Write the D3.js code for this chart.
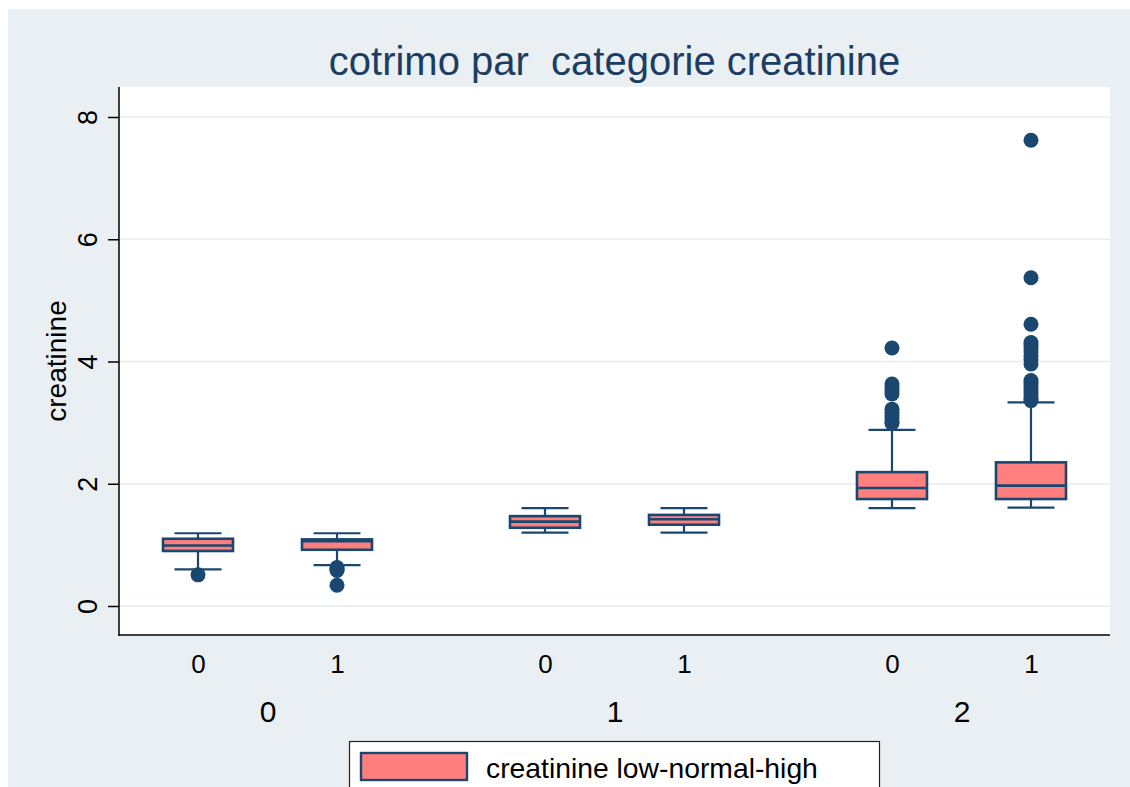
<!DOCTYPE html>
<html>
<head>
<meta charset="utf-8">
<script src="https://cdn.jsdelivr.net/npm/d3@7/dist/d3.min.js"></script>
<style>
  body { margin: 0; background: #ffffff; }
  svg { display: block; font-family: "Liberation Sans", Arial, Helvetica, sans-serif; }
</style>
</head>
<body>
<svg id="chart" width="1130" height="787"></svg>
<script>
// Creatinine category groups and cotrimo sub-groups
const groups = ["0", "1", "2"];
const cotrimo = ["0", "1"];

// Box statistics, one entry per (group, cotrimo) pair in reading order
const lowerWhisker = [0.60, 0.67, 1.20, 1.20, 1.60, 1.61];
const q1           = [0.90, 0.92, 1.28, 1.33, 1.75, 1.75];
const median       = [0.99, 1.06, 1.38, 1.42, 1.93, 1.97];
const q3           = [1.10, 1.09, 1.47, 1.49, 2.19, 2.35];
const upperWhisker = [1.19, 1.19, 1.60, 1.60, 2.88, 3.33];
const outliers = [
  [0.51],
  [0.63, 0.60, 0.58, 0.34],
  [],
  [],
  [4.22, 3.63, 3.57, 3.52, 3.47, 3.22, 3.17, 3.12, 3.07, 3.02, 2.99],
  [7.62, 5.37, 4.61, 4.31, 4.27, 4.22, 4.16, 4.10, 4.03, 3.96,
   3.69, 3.64, 3.60, 3.55, 3.50, 3.45, 3.40, 3.36]
];
const yTicks = [0, 2, 4, 6, 8];

const titleText = "cotrimo par\u00a0\u00a0categorie creatinine";
const yTitle = "creatinine";
const legendLabel = "creatinine low-normal-high";

const boxFill = "#ff7f7f";
const navy = "#1a476f";

const svg = d3.select("#chart");
const W = 1130, H = 787;
const plot = { left: 119, right: 1110, top: 87, bottom: 635 };

// Graph region background
svg.append("rect").attr("x", 8).attr("y", 9).attr("width", W - 8).attr("height", H - 9)
  .attr("fill", "#e9eff2");
// Plot region
svg.append("rect").attr("x", plot.left).attr("y", plot.top)
  .attr("width", plot.right - plot.left).attr("height", plot.bottom - plot.top)
  .attr("fill", "#ffffff");

// Scales
const y = d3.scaleLinear().domain([0, 8]).range([606, 117]);
const xGroup = d3.scalePoint().domain(groups).range([plot.left, plot.right]).padding(0.428);
const xSub = d3.scalePoint().domain(cotrimo).range([-69.5, 69.5]);

// Gridlines
svg.append("g").selectAll("line").data(yTicks).join("line")
  .attr("x1", plot.left).attr("x2", plot.right)
  .attr("y1", d => y(d)).attr("y2", d => y(d))
  .attr("stroke", "#e6edf0").attr("stroke-width", 1.6);

// Title
svg.append("text").attr("x", (plot.left + plot.right) / 2).attr("y", 75)
  .attr("text-anchor", "middle").attr("font-size", 40).attr("fill", "#1c3d63")
  .text(titleText);

// Y axis
const yAxis = svg.append("g").attr("transform", `translate(${plot.left},0)`)
  .call(d3.axisLeft(y).tickValues(yTicks).tickSize(11).tickSizeOuter(0).tickFormat(d3.format("d")));
yAxis.select(".domain").remove();
yAxis.selectAll(".tick line").attr("stroke", "#000").attr("stroke-width", 1.5);
yAxis.selectAll(".tick text")
  .attr("x", 0).attr("dy", null).attr("y", 0)
  .attr("transform", "translate(-22,0) rotate(-90)")
  .attr("text-anchor", "middle").attr("font-size", 27).attr("fill", "#000")
  .attr("font-family", "Liberation Sans, Arial, sans-serif");
svg.append("line").attr("x1", plot.left).attr("x2", plot.left)
  .attr("y1", plot.top).attr("y2", plot.bottom + 0.75)
  .attr("stroke", "#000").attr("stroke-width", 1.5);

// Y axis title
svg.append("text").attr("transform", `translate(66,${(plot.top + plot.bottom) / 2}) rotate(-90)`)
  .attr("text-anchor", "middle").attr("font-size", 28).attr("fill", "#000")
  .text(yTitle);

// X axis line
svg.append("line").attr("x1", plot.left - 0.75).attr("x2", plot.right)
  .attr("y1", plot.bottom).attr("y2", plot.bottom)
  .attr("stroke", "#000").attr("stroke-width", 1.5);

// Sub-group labels under each box
groups.forEach(g => {
  const ax = svg.append("g").attr("transform", `translate(${xGroup(g)},${plot.bottom})`)
    .call(d3.axisBottom(xSub).tickSize(0));
  ax.select(".domain").remove();
  ax.selectAll(".tick text").attr("y", 38).attr("dy", null)
    .attr("font-size", 26).attr("fill", "#000")
    .attr("font-family", "Liberation Sans, Arial, sans-serif");
});

// Group labels
const gAx = svg.append("g").attr("transform", `translate(0,${plot.bottom})`)
  .call(d3.axisBottom(xGroup).tickSize(0));
gAx.select(".domain").remove();
gAx.selectAll(".tick text").attr("y", 87).attr("dy", null)
  .attr("font-size", 30).attr("fill", "#000")
  .attr("font-family", "Liberation Sans, Arial, sans-serif");

// Box plot records
const records = [];
groups.forEach((g, gi) => cotrimo.forEach((s, si) => {
  const i = gi * cotrimo.length + si;
  records.push({
    cx: xGroup(g) + xSub(s),
    lo: lowerWhisker[i], q1: q1[i], med: median[i], q3: q3[i], hi: upperWhisker[i],
    out: outliers[i]
  });
}));

const boxHalf = 35, capHalf = 23.5;
const boxes = svg.append("g").selectAll("g").data(records).join("g");

// Whiskers
boxes.append("line").attr("x1", d => d.cx).attr("x2", d => d.cx)
  .attr("y1", d => y(d.hi)).attr("y2", d => y(d.q3))
  .attr("stroke", navy).attr("stroke-width", 2.2);
boxes.append("line").attr("x1", d => d.cx).attr("x2", d => d.cx)
  .attr("y1", d => y(d.q1)).attr("y2", d => y(d.lo))
  .attr("stroke", navy).attr("stroke-width", 2.2);
boxes.append("line").attr("x1", d => d.cx - capHalf).attr("x2", d => d.cx + capHalf)
  .attr("y1", d => y(d.hi)).attr("y2", d => y(d.hi))
  .attr("stroke", navy).attr("stroke-width", 2.2);
boxes.append("line").attr("x1", d => d.cx - capHalf).attr("x2", d => d.cx + capHalf)
  .attr("y1", d => y(d.lo)).attr("y2", d => y(d.lo))
  .attr("stroke", navy).attr("stroke-width", 2.2);

// Boxes and medians
boxes.append("rect").attr("x", d => d.cx - boxHalf).attr("width", boxHalf * 2)
  .attr("y", d => y(d.q3)).attr("height", d => y(d.q1) - y(d.q3))
  .attr("fill", boxFill).attr("stroke", navy).attr("stroke-width", 2.6);
boxes.append("line").attr("x1", d => d.cx - boxHalf).attr("x2", d => d.cx + boxHalf)
  .attr("y1", d => y(d.med)).attr("y2", d => y(d.med))
  .attr("stroke", navy).attr("stroke-width", 2.6);

// Outside values
boxes.selectAll("circle").data(d => d.out.map(v => ({ cx: d.cx, v }))).join("circle")
  .attr("cx", d => d.cx).attr("cy", d => y(d.v)).attr("r", 7.5)
  .attr("fill", navy);

// Legend
const leg = svg.append("g");
leg.append("rect").attr("x", 349.5).attr("y", 741.5).attr("width", 530).attr("height", 70)
  .attr("fill", "#ffffff").attr("stroke", "#222").attr("stroke-width", 1.2);
leg.append("rect").attr("x", 361).attr("y", 753).attr("width", 106).attr("height", 27)
  .attr("fill", boxFill).attr("stroke", navy).attr("stroke-width", 2.4);
leg.append("text").attr("x", 486).attr("y", 778).attr("font-size", 28.3).attr("fill", "#000")
  .text(legendLabel);
</script>
</body>
</html>
